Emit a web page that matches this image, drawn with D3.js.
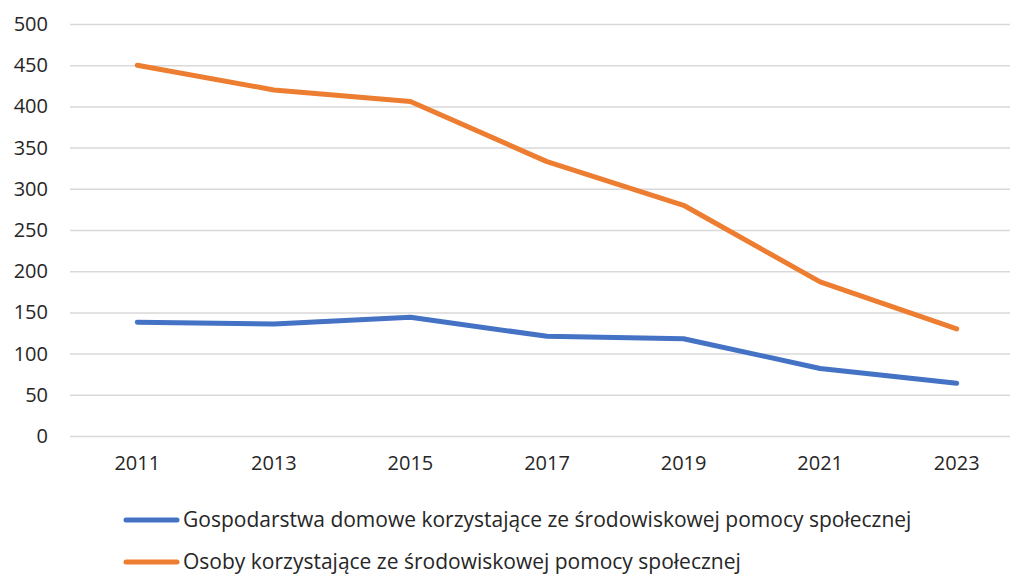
<!DOCTYPE html>
<html lang="pl">
<head>
<meta charset="UTF-8" />
<title>Pomoc społeczna</title>
<style>
  body { margin: 0; background: #fff; }
  .chart { width: 1010px; height: 576px; }
  text { font-family: "Open Sans", "Noto Sans", sans-serif; fill: #262626; }
</style>
</head>
<body>
<div class="chart"></div>
<script src="https://d3js.org/d3.v7.min.js"></script>
<script>
  // dane
  const years = ['2011', '2013', '2015', '2017', '2019', '2021', '2023']
  const gospodarstwa = [138, 136, 144, 121, 118, 82, 64]
  const osoby = [450, 420, 406, 333, 280, 187, 130]
  const yTicks = [0, 50, 100, 150, 200, 250, 300, 350, 400, 450, 500]
  const seriesNames = [
    'Gospodarstwa domowe korzystające ze środowiskowej pomocy społecznej',
    'Osoby korzystające ze środowiskowej pomocy społecznej'
  ]
  const colors = ['#4472C4', '#ED7D31']

  const width = 1010, height = 576

  const svg = d3.select('.chart')
                .append('svg')
                .attr('width', width)
                .attr('height', height)

  const xScale = d3.scaleBand()
                   .domain(years)
                   .range([69, 1025])

  const yScale = d3.scaleLinear()
                   .domain([0, 500])
                   .range([436, 24])

  // siatka + oś Y
  const yAxis = d3.axisLeft(yScale)
                  .tickValues(yTicks)
                  .tickSize(-(width - 70))
                  .tickPadding(22)

  svg.append('g')
     .attr('transform', 'translate(70,0)')
     .call(yAxis)
     .call(g => g.select('.domain').remove())
     .call(g => g.selectAll('line').attr('stroke', '#d9d9d9').attr('stroke-width', 1.5))
     .call(g => g.selectAll('text').style('font-size', '20px').attr('fill', '#262626'))

  // oś X
  const xAxis = d3.axisBottom(xScale).tickSize(0).tickPadding(20)
  svg.append('g')
     .attr('transform', 'translate(0,436)')
     .call(xAxis)
     .call(g => g.select('.domain').remove())
     .call(g => g.selectAll('text').style('font-size', '20px').attr('fill', '#262626'))

  // linie
  const line = d3.line()
                 .x((d, i) => xScale(years[i]) + xScale.bandwidth() / 2)
                 .y(d => yScale(d))

  ;[gospodarstwa, osoby].forEach((s, k) => {
    svg.append('path')
       .datum(s)
       .attr('fill', 'none')
       .attr('stroke', colors[k])
       .attr('stroke-width', 5)
       .attr('stroke-linecap', 'round')
       .attr('stroke-linejoin', 'round')
       .attr('d', line)
  })

  // legenda
  const legend = svg.append('g')
  seriesNames.forEach((name, k) => {
    const y = 520 + k * 42
    legend.append('line')
          .attr('x1', 126).attr('x2', 177)
          .attr('y1', y).attr('y2', y)
          .attr('stroke', colors[k])
          .attr('stroke-width', 5)
          .attr('stroke-linecap', 'round')
    legend.append('text')
          .attr('x', 183)
          .attr('y', y)
          .attr('dy', '0.35em')
          .style('font-size', '21px')
          .text(name)
  })
</script>
</body>
</html>
